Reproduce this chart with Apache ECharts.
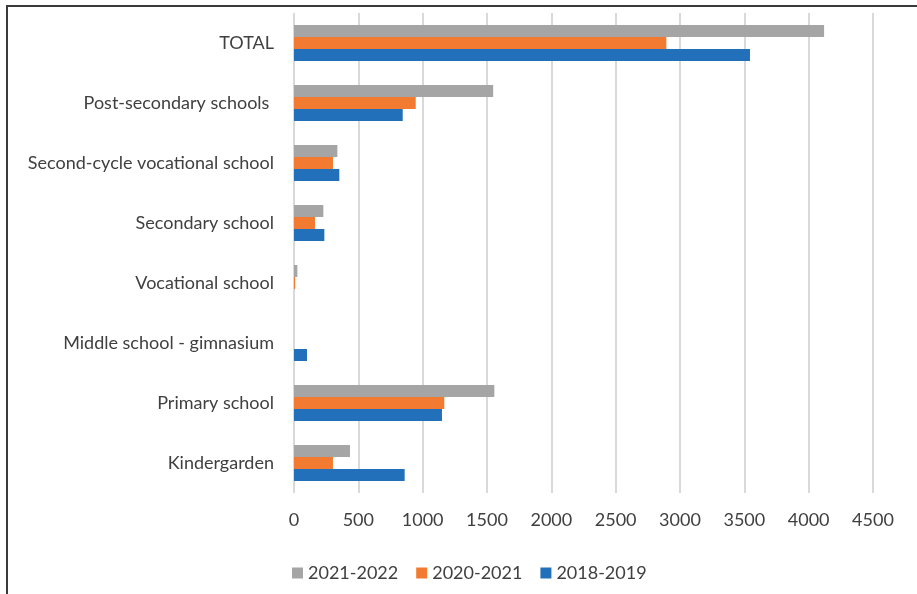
<!DOCTYPE html>
<html>
<head>
<meta charset="utf-8">
<script src="https://cdn.jsdelivr.net/npm/echarts@6/dist/echarts.min.js"></script>
<style>
  html, body { margin: 0; padding: 0; background: #fff; }
  #chart { width: 917px; height: 594px; }
</style>
</head>
<body>
<div id="chart"></div>
<script>
// School levels, top to bottom
const categories = [
  'TOTAL',
  'Post-secondary schools ',
  'Second-cycle vocational school',
  'Secondary school',
  'Vocational school',
  'Middle school - gimnasium',
  'Primary school',
  'Kindergarden'
];

const years = ['2021-2022', '2020-2021', '2018-2019'];

const values2021_2022 = [4120, 1548, 337, 228, 26, 0, 1557, 435];
const values2020_2021 = [2894, 946, 303, 163, 9, 0, 1168, 303];
const values2018_2019 = [3544, 845, 352, 236, 0, 101, 1150, 860];

const xTicks = { min: 0, max: 4500, interval: 500 };

const colors = ['#A5A5A5', '#F27B31', '#2270B9'];
const seriesValues = [values2021_2022, values2020_2021, values2018_2019];

const chart = echarts.init(document.getElementById('chart'), null, { renderer: 'canvas' });

const font = 'Lato, "Liberation Sans", sans-serif';

chart.setOption({
  animation: false,
  color: colors,
  textStyle: { fontFamily: font },
  graphic: [{
    type: 'rect',
    shape: { x: 7, y: 6, width: 930, height: 610 },
    style: { fill: 'none', stroke: '#3a3a3a', lineWidth: 2 },
    silent: true
  }],
  grid: { left: 294, right: 44, top: 13, height: 480, containLabel: false },
  legend: {
    data: years,
    left: 287,
    top: 559,
    itemWidth: 11,
    itemHeight: 11,
    itemGap: 18,
    icon: 'rect',
    textStyle: { fontSize: 18, color: '#404040', fontFamily: font }
  },
  xAxis: {
    type: 'value',
    min: xTicks.min,
    max: xTicks.max,
    interval: xTicks.interval,
    axisLine: { show: false },
    axisTick: { show: false },
    axisLabel: {
      fontSize: 18, color: '#404040', margin: 18, fontFamily: font,
      formatter: (v) => String(v)
    },
    splitLine: { show: true, lineStyle: { color: '#D9D9D9', width: 2 } }
  },
  yAxis: {
    type: 'category',
    data: categories,
    inverse: true,
    axisLine: { show: false },
    axisTick: { show: false },
    axisLabel: {
      fontSize: 18, color: '#404040', margin: 20, fontFamily: font,
      padding: [5, 0, 0, 0]
    },
    splitLine: { show: false }
  },
  series: years.map((name, i) => ({
    name,
    type: 'bar',
    data: seriesValues[i],
    barGap: '0%',
    barCategoryGap: '40%',
    itemStyle: { color: colors[i] }
  }))
});
</script>
</body>
</html>
